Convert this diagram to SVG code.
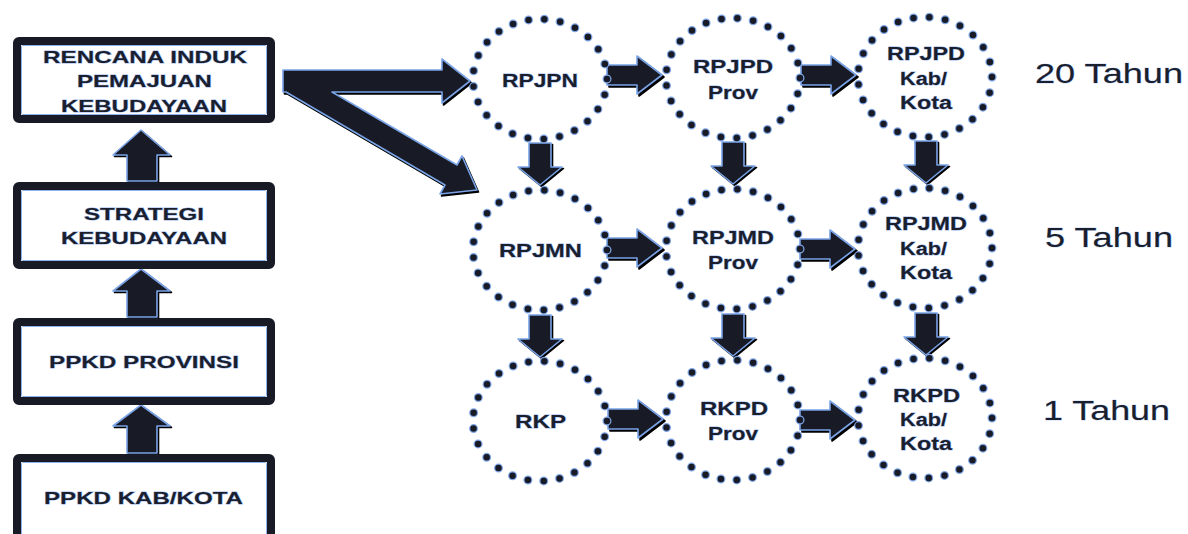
<svg xmlns="http://www.w3.org/2000/svg" width="1188" height="534" viewBox="0 0 1188 534">
<defs>
<style>
.box{fill:#fff;stroke:#181b26;stroke-width:8}
.boxedge{fill:none;stroke:#8fb0ee;stroke-width:1}
.bt{font-family:"Liberation Sans",Arial,sans-serif;font-weight:bold;font-size:16.5px;fill:#1b1f2d;stroke:#9ab8f0;stroke-width:0.8;paint-order:stroke;text-anchor:start}
.ct{font-family:"Liberation Sans",Arial,sans-serif;font-weight:bold;font-size:18px;fill:#1b1f2d;stroke:#9ab8f0;stroke-width:0.8;paint-order:stroke}
.tt{font-family:"Liberation Sans",Arial,sans-serif;font-size:28px;fill:#1b1f2d;stroke:#9ab8f0;stroke-width:0.6;paint-order:stroke}
.dotb{fill:none;stroke:#7fa5e6;stroke-width:9;stroke-linecap:round;stroke-dasharray:0 15.97}
.dotd{fill:none;stroke:#181b26;stroke-width:6.5;stroke-linecap:round;stroke-dasharray:0 15.97}
.ar{fill:#181b26;stroke:#7aa3e6;stroke-width:1.6;stroke-linejoin:round}
.sh{fill:#000;stroke:#000;stroke-width:1.6;stroke-linejoin:round}
</style>
<path id="ra" d="M-55,-10 L-25,-10 L-25,-19 L0,0 L-25,19 L-25,10 L-55,10 Z"/>
<path id="da" d="M-11,-42 L11,-42 L11,-18 L22,-18 L0,0 L-22,-18 L-11,-18 Z"/>
<ellipse id="ring" cx="0" cy="0" rx="67" ry="60"/>
</defs>
<rect width="1188" height="534" fill="#fff"/>

<g id="connectors">
  <path class="sh" transform="translate(1.5,2)" d="M283,70 L442,70 L442,59 L470,81 L442,103 L442,92 L332,92 L457,165 L462,156 L477,190 L440,194 L445,185 L286,92 L283,92 Z"/>
  <path class="ar" d="M283,70 L442,70 L442,59 L470,81 L442,103 L442,92 L332,92 L457,165 L462,156 L477,190 L440,194 L445,185 L286,92 L283,92 Z"/>
  <path class="sh" transform="translate(1.5,1.5)" d="M141,130 L170,155 L157,155 L157,181 L127,181 L127,155 L113,155 Z"/>
  <path class="ar" d="M141,130 L170,155 L157,155 L157,181 L127,181 L127,155 L113,155 Z"/>
  <path class="sh" transform="translate(1.5,1.5)" d="M141,269 L170,291 L157,291 L157,317 L127,317 L127,291 L113,291 Z"/>
  <path class="ar" d="M141,269 L170,291 L157,291 L157,317 L127,317 L127,291 L113,291 Z"/>
  <path class="sh" transform="translate(1.5,1.5)" d="M141,405 L170,426 L157,426 L157,453 L127,453 L127,426 L113,426 Z"/>
  <path class="ar" d="M141,405 L170,426 L157,426 L157,453 L127,453 L127,426 L113,426 Z"/>
  <use href="#ra" class="sh" transform="translate(664,77)"/>
  <use href="#ra" class="ar" transform="translate(662,75)"/>
  <use href="#ra" class="sh" transform="translate(858,77)"/>
  <use href="#ra" class="ar" transform="translate(856,75)"/>
  <use href="#ra" class="sh" transform="translate(664,250)"/>
  <use href="#ra" class="ar" transform="translate(662,248)"/>
  <use href="#ra" class="sh" transform="translate(857,251)"/>
  <use href="#ra" class="ar" transform="translate(855,249)"/>
  <use href="#ra" class="sh" transform="translate(665,421)"/>
  <use href="#ra" class="ar" transform="translate(663,419)"/>
  <use href="#ra" class="sh" transform="translate(857,422)"/>
  <use href="#ra" class="ar" transform="translate(855,420)"/>
  <use href="#da" class="sh" transform="translate(541.5,186.5)"/>
  <use href="#da" class="ar" transform="translate(540,185)"/>
  <use href="#da" class="sh" transform="translate(734.5,185.5)"/>
  <use href="#da" class="ar" transform="translate(733,184)"/>
  <use href="#da" class="sh" transform="translate(927.5,184.5)"/>
  <use href="#da" class="ar" transform="translate(926,183)"/>
  <use href="#da" class="sh" transform="translate(541.5,358.5)"/>
  <use href="#da" class="ar" transform="translate(540,357)"/>
  <use href="#da" class="sh" transform="translate(734.5,357.5)"/>
  <use href="#da" class="ar" transform="translate(733,356)"/>
  <use href="#da" class="sh" transform="translate(927.5,356.5)"/>
  <use href="#da" class="ar" transform="translate(926,355)"/>
</g>

<g id="box-rencana">
  <rect class="box" x="17" y="41" width="254" height="78" rx="2"/>
  <rect class="boxedge" x="21.5" y="45.5" width="245" height="69" rx="1"/>
  <text class="bt" x="43" y="63" textLength="204" lengthAdjust="spacingAndGlyphs">RENCANA INDUK</text>
  <text class="bt" x="77" y="87" textLength="135" lengthAdjust="spacingAndGlyphs">PEMAJUAN</text>
  <text class="bt" x="61" y="112" textLength="166" lengthAdjust="spacingAndGlyphs">KEBUDAYAAN</text>
</g>
<g id="box-strategi">
  <rect class="box" x="17" y="186" width="254" height="79" rx="2"/>
  <rect class="boxedge" x="21.5" y="190.5" width="245" height="70" rx="1"/>
  <text class="bt" x="84" y="220" textLength="120" lengthAdjust="spacingAndGlyphs">STRATEGI</text>
  <text class="bt" x="61" y="244" textLength="166" lengthAdjust="spacingAndGlyphs">KEBUDAYAAN</text>
</g>
<g id="box-ppkd-prov">
  <rect class="box" x="17" y="322" width="254" height="79" rx="2"/>
  <rect class="boxedge" x="21.5" y="326.5" width="245" height="70" rx="1"/>
  <text class="bt" x="49" y="368" textLength="190" lengthAdjust="spacingAndGlyphs">PPKD PROVINSI</text>
</g>
<g id="box-ppkd-kab">
  <rect class="box" x="17" y="458" width="254" height="90" rx="2"/>
  <rect class="boxedge" x="21.5" y="462.5" width="245" height="81" rx="1"/>
  <text class="bt" x="44" y="504" textLength="199" lengthAdjust="spacingAndGlyphs">PPKD KAB/KOTA</text>
</g>

<g id="rpjpn">
  <use href="#ring" class="dotb" transform="translate(540,79)"/>
  <use href="#ring" class="dotd" transform="translate(540,79)"/>
  <text class="ct" x="502" y="87" textLength="76" lengthAdjust="spacingAndGlyphs">RPJPN</text>
</g>
<g id="rpjpd-prov">
  <use href="#ring" class="dotb" transform="translate(733,78)"/>
  <use href="#ring" class="dotd" transform="translate(733,78)"/>
  <text class="ct" x="693" y="73" textLength="80" lengthAdjust="spacingAndGlyphs">RPJPD</text>
  <text class="ct" x="708" y="99" textLength="50" lengthAdjust="spacingAndGlyphs">Prov</text>
</g>
<g id="rpjpd-kab">
  <use href="#ring" class="dotb" transform="translate(925,77)"/>
  <use href="#ring" class="dotd" transform="translate(925,77)"/>
  <text class="ct" x="887" y="60" textLength="78" lengthAdjust="spacingAndGlyphs">RPJPD</text>
  <text class="ct" x="900" y="85" textLength="47" lengthAdjust="spacingAndGlyphs">Kab/</text>
  <text class="ct" x="900" y="109" textLength="52" lengthAdjust="spacingAndGlyphs">Kota</text>
</g>
<g id="rpjmn">
  <use href="#ring" class="dotb" transform="translate(540,250)"/>
  <use href="#ring" class="dotd" transform="translate(540,250)"/>
  <text class="ct" x="499" y="257" textLength="83" lengthAdjust="spacingAndGlyphs">RPJMN</text>
</g>
<g id="rpjmd-prov">
  <use href="#ring" class="dotb" transform="translate(733,249)"/>
  <use href="#ring" class="dotd" transform="translate(733,249)"/>
  <text class="ct" x="692" y="244" textLength="82" lengthAdjust="spacingAndGlyphs">RPJMD</text>
  <text class="ct" x="708" y="269" textLength="50" lengthAdjust="spacingAndGlyphs">Prov</text>
</g>
<g id="rpjmd-kab">
  <use href="#ring" class="dotb" transform="translate(925,248)"/>
  <use href="#ring" class="dotd" transform="translate(925,248)"/>
  <text class="ct" x="885" y="230" textLength="82" lengthAdjust="spacingAndGlyphs">RPJMD</text>
  <text class="ct" x="900" y="255" textLength="47" lengthAdjust="spacingAndGlyphs">Kab/</text>
  <text class="ct" x="900" y="279" textLength="52" lengthAdjust="spacingAndGlyphs">Kota</text>
</g>
<g id="rkp">
  <use href="#ring" class="dotb" transform="translate(540,421)"/>
  <use href="#ring" class="dotd" transform="translate(540,421)"/>
  <text class="ct" x="515" y="428" textLength="51" lengthAdjust="spacingAndGlyphs">RKP</text>
</g>
<g id="rkpd-prov">
  <use href="#ring" class="dotb" transform="translate(733,420)"/>
  <use href="#ring" class="dotd" transform="translate(733,420)"/>
  <text class="ct" x="700" y="415" textLength="68" lengthAdjust="spacingAndGlyphs">RKPD</text>
  <text class="ct" x="708" y="440" textLength="50" lengthAdjust="spacingAndGlyphs">Prov</text>
</g>
<g id="rkpd-kab">
  <use href="#ring" class="dotb" transform="translate(925,418)"/>
  <use href="#ring" class="dotd" transform="translate(925,418)"/>
  <text class="ct" x="893" y="402" textLength="67" lengthAdjust="spacingAndGlyphs">RKPD</text>
  <text class="ct" x="900" y="426" textLength="47" lengthAdjust="spacingAndGlyphs">Kab/</text>
  <text class="ct" x="900" y="450" textLength="52" lengthAdjust="spacingAndGlyphs">Kota</text>
</g>

<g id="labels">
  <text class="tt" x="1035" y="83" textLength="148" lengthAdjust="spacingAndGlyphs">20 Tahun</text>
  <text class="tt" x="1045" y="247" textLength="128" lengthAdjust="spacingAndGlyphs">5 Tahun</text>
  <text class="tt" x="1043" y="420" textLength="127" lengthAdjust="spacingAndGlyphs">1 Tahun</text>
</g>
</svg>
